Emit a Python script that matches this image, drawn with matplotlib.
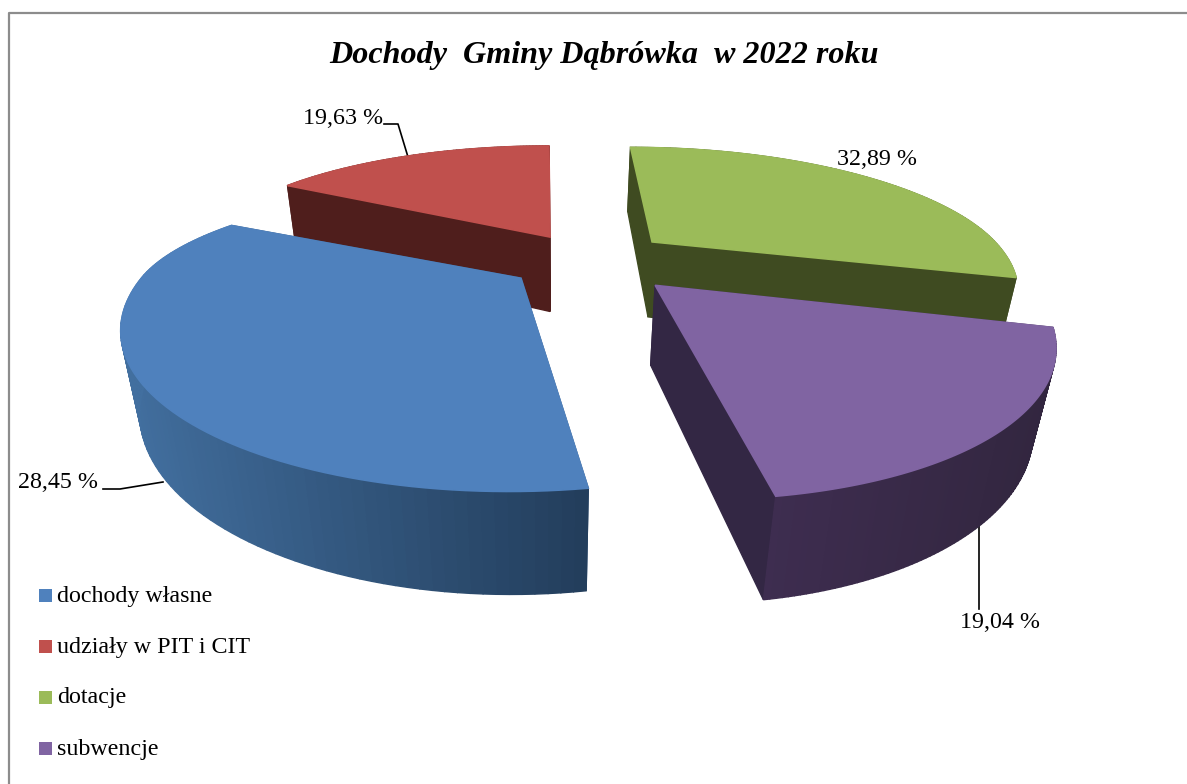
"""Dochody Gminy Dabrowka 2022: exploded 3D pie drawn with a small perspective camera."""

import numpy as np
import matplotlib
matplotlib.use("Agg")
import matplotlib.pyplot as plt
from matplotlib.colors import to_rgb

# ── data ───────────────────────────────────────────────────────────────────────
categories = ["dochody własne", "udziały w PIT i CIT", "dotacje", "subwencje"]
# the printed labels do not agree with the slice sizes in the picture
printed_labels = ["28,45 %", "19,63 %", "32,89 %", "19,04 %"]
drawn_shares = [35.9, 16.4, 29.2, 18.5]

top_colors = ["#4f81bd", "#c0504d", "#9bbb59", "#8064a2"]
side_colors = ["#2f5078", "#4f1e1c", "#3f4b21", "#332744"]
wall_from = ["#426f9f", "#4f1e1c", "#3f4b21", "#3e2d50"]
wall_to = ["#233e5c", "#4f1e1c", "#3f4b21", "#32263f"]

# ── camera ─────────────────────────────────────────────────────────────────────
START_ANGLE = -81.5
RADIUS_U = [366.0, 360.0, 356.0, 354.0]
RADIUS_FAR = [262.0, 305.0, 312.0, 312.0]
RADIUS_NEAR = [342.0, 340.0, 340.0, 335.0]
DEPTH_SCALE = 1200.0
VANISH_X = 550.0
HORIZON_Y = -230.0
Y_SPAN = 490.0
DROP_BASE = 22.0
DROP_SLOPE = 55.0
DOWN_X = 549.0
DOWN_DIST = 1900.0

# slice apex in plane coordinates (explosion)
APEX = [(-28, -43), (0, 59), (106, 46), (100, -59)]
DRAW_ORDER = [1, 2, 3, 0]


def project(u, w):
    s = 1.0 / (1.0 + np.asarray(w, dtype=float) / DEPTH_SCALE)
    return VANISH_X + np.asarray(u) * s, HORIZON_Y + Y_SPAN * s, s


def project_low(u, w):
    x, y, s = project(u, w)
    drop = DROP_BASE + DROP_SLOPE * s
    return x + (DOWN_X - x) * drop / DOWN_DIST, y + drop


def mix(c1, c2, t):
    a, b = np.array(to_rgb(c1)), np.array(to_rgb(c2))
    return tuple(a + (b - a) * t)


def quad(ax, xs, ys, color):
    ax.fill(xs, ys, color=color, linewidth=1.0, zorder=3)


def draw_slice(ax, i, a0, a1):
    au, aw = APEX[i]
    t = np.radians(np.linspace(a0, a1, 90))
    sin_t = np.sin(t)
    u = au + RADIUS_U[i] * np.cos(t)
    w = aw + np.where(sin_t > 0, RADIUS_FAR[i], RADIUS_NEAR[i]) * sin_t
    x, y, _ = project(u, w)
    xl, yl = project_low(u, w)
    ax_, ay_, _ = project(au, aw)
    axl, ayl = project_low(au, aw)

    # radial walls
    for k in (0, -1):
        quad(ax, [ax_, x[k], xl[k], axl], [ay_, y[k], yl[k], ayl], side_colors[i])
    # outer wall, one strip per step so the shading can run along it
    for k in range(len(t) - 1):
        c = mix(wall_from[i], wall_to[i], (xl[k] - xl.min()) / (xl.max() - xl.min()))
        quad(ax, [x[k], x[k + 1], xl[k + 1], xl[k]], [y[k], y[k + 1], yl[k + 1], yl[k]], c)
    # top face
    ax.fill(np.r_[ax_, x], np.r_[ay_, y], color=top_colors[i], linewidth=1.2, zorder=3)


def main():
    plt.rcParams["font.family"] = ["Liberation Serif", "DejaVu Serif"]
    fig = plt.figure(figsize=(11.87, 7.84), dpi=100)
    ax = fig.add_axes([0, 0, 1, 1])
    ax.set_xlim(0, 1187)
    ax.set_ylim(784, 0)
    ax.axis("off")

    # frame
    ax.plot([8.5, 8.5, 1187], [784, 13, 13], color="#8c8c8c", linewidth=1.6)

    ax.text(604, 55, "Dochody  Gminy Dąbrówka  w 2022 roku", ha="center", va="center",
            fontsize=23.1, fontweight="bold", fontstyle="italic")

    # slices
    bounds = START_ANGLE - np.cumsum([0] + drawn_shares) * 3.6
    for i in DRAW_ORDER:
        draw_slice(ax, i, bounds[i], bounds[i + 1])

    # leaders
    for xs, ys in [([384, 398, 408], [124, 124, 157]),
                   ([103, 120, 163], [489, 489, 482]),
                   ([979, 979], [525, 609])]:
        ax.plot(xs, ys, color="black", linewidth=1.2, zorder=2)

    # value labels
    label_pos = [(58, 482), (343, 118), (877, 159), (1000, 623)]
    for lab, (x, y) in zip(printed_labels, label_pos):
        ax.text(x, y, lab, ha="center", va="center", fontsize=17.3, zorder=5)

    # legend
    for name, col, y in zip(categories, top_colors, [595.5, 646, 697, 748.5]):
        ax.fill([39, 52, 52, 39], [y - 6.5, y - 6.5, y + 6.5, y + 6.5], color=col, linewidth=0)
        ax.text(57, y + 1, name, ha="left", va="center", fontsize=17.3)

    fig.savefig("out.png", dpi=100)


if __name__ == "__main__":
    main()
